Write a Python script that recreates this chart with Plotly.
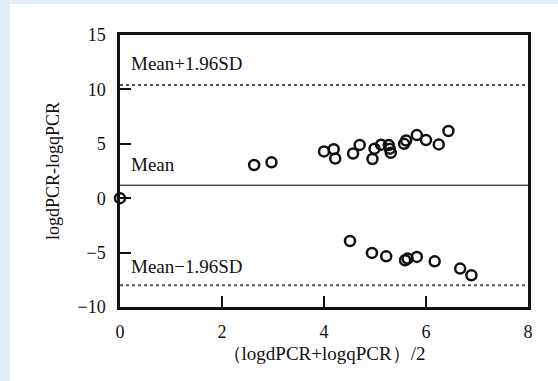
import plotly.graph_objects as go

# Data
x_upper = [0.0, 2.63, 2.97, 4.00, 4.19, 4.22, 4.57, 4.70, 4.95, 4.99, 5.12, 5.27, 5.31,
           5.29, 5.57, 5.61, 5.82, 6.00, 6.25, 6.44]
y_upper = [0.0, 3.05, 3.30, 4.30, 4.50, 3.65, 4.11, 4.90, 3.60, 4.55, 4.92, 4.88, 4.17,
           4.55, 5.00, 5.30, 5.80, 5.34, 4.94, 6.18]
x_lower = [4.51, 4.94, 5.22, 5.59, 5.64, 5.82, 6.17, 6.67, 6.89]
y_lower = [-3.93, -5.03, -5.34, -5.70, -5.55, -5.40, -5.80, -6.47, -7.08]

mean_val = 1.2
upper_loa = 10.4
lower_loa = -8.0

x_ticks = [0, 2, 4, 6, 8]
y_ticks = [-10, -5, 0, 5, 10, 15]

label_upper = "Mean+1.96SD"
label_mean = "Mean"
label_lower = "Mean\u22121.96SD"

FONT = "Liberation Serif, Times New Roman, serif"

fig = go.Figure()
fig.add_trace(go.Scatter(
    x=x_upper + x_lower, y=y_upper + y_lower, mode="markers",
    marker=dict(symbol="circle-open", size=10, color="#111111", line=dict(width=2.5, color="#111111")),
    cliponaxis=False, showlegend=False, hoverinfo="skip"))

shapes = [
    dict(type="line", xref="x", yref="y", x0=x_ticks[0], x1=x_ticks[-1], y0=mean_val, y1=mean_val,
         line=dict(color="#555555", width=1.5), layer="below"),
    dict(type="line", xref="x", yref="y", x0=x_ticks[0], x1=x_ticks[-1], y0=upper_loa, y1=upper_loa,
         line=dict(color="#555555", width=2, dash="dot"), layer="below"),
    dict(type="line", xref="x", yref="y", x0=x_ticks[0], x1=x_ticks[-1], y0=lower_loa, y1=lower_loa,
         line=dict(color="#555555", width=2, dash="dot"), layer="below"),
    # light blue decorative border strips
    dict(type="rect", xref="paper", yref="paper", x0=-120/408, x1=-110/408, y0=-74/272, y1=1+35/272,
         fillcolor="#e4eef8", line=dict(width=0), layer="below"),
    dict(type="rect", xref="paper", yref="paper", x0=-120/408, x1=1+30/408, y0=1+31/272, y1=1+35/272,
         fillcolor="#e4eef8", line=dict(width=0), layer="below"),
]

annotations = [
    dict(x=0.18, y=12.4, xref="x", yref="y", text=label_upper, showarrow=False, xanchor="left",
         yanchor="middle", font=dict(family=FONT, size=19, color="#111111")),
    dict(x=0.18, y=3.1, xref="x", yref="y", text=label_mean, showarrow=False, xanchor="left",
         yanchor="middle", font=dict(family=FONT, size=19, color="#111111")),
    dict(x=0.18, y=-6.3, xref="x", yref="y", text=label_lower, showarrow=False, xanchor="left",
         yanchor="middle", font=dict(family=FONT, size=19, color="#111111")),
]

x_title = "\uff08logdPCR+logqPCR\uff09/2"

fig.update_layout(
    width=558, height=381,
    margin=dict(l=120, r=30, t=35, b=74),
    paper_bgcolor="white", plot_bgcolor="white",
    shapes=shapes, annotations=annotations,
    font=dict(family=FONT, size=18, color="#111111"),
    xaxis=dict(range=[0, 8], tickvals=x_ticks, ticks="inside", ticklen=11, tickwidth=2,
               tickcolor="#111111", showline=True, linewidth=2.5, linecolor="#111111", mirror=True,
               showgrid=False, zeroline=False, ticklabelstandoff=7, tickfont=dict(size=18),
               title=dict(text=x_title, font=dict(family=FONT, size=19), standoff=6)),
    yaxis=dict(range=[-10, 15], tickvals=y_ticks, ticks="inside", ticklen=11, tickwidth=2,
               tickcolor="#111111", showline=True, linewidth=2.5, linecolor="#111111", mirror=True,
               showgrid=False, zeroline=False, ticklabelstandoff=8, tickfont=dict(size=18),
               title=dict(text="logdPCR-logqPCR", font=dict(family=FONT, size=18), standoff=14)),
)

fig.write_html("out.html", config={"displayModeBar": False},
               post_script="document.body.style.margin='0';document.body.style.padding='0';")
